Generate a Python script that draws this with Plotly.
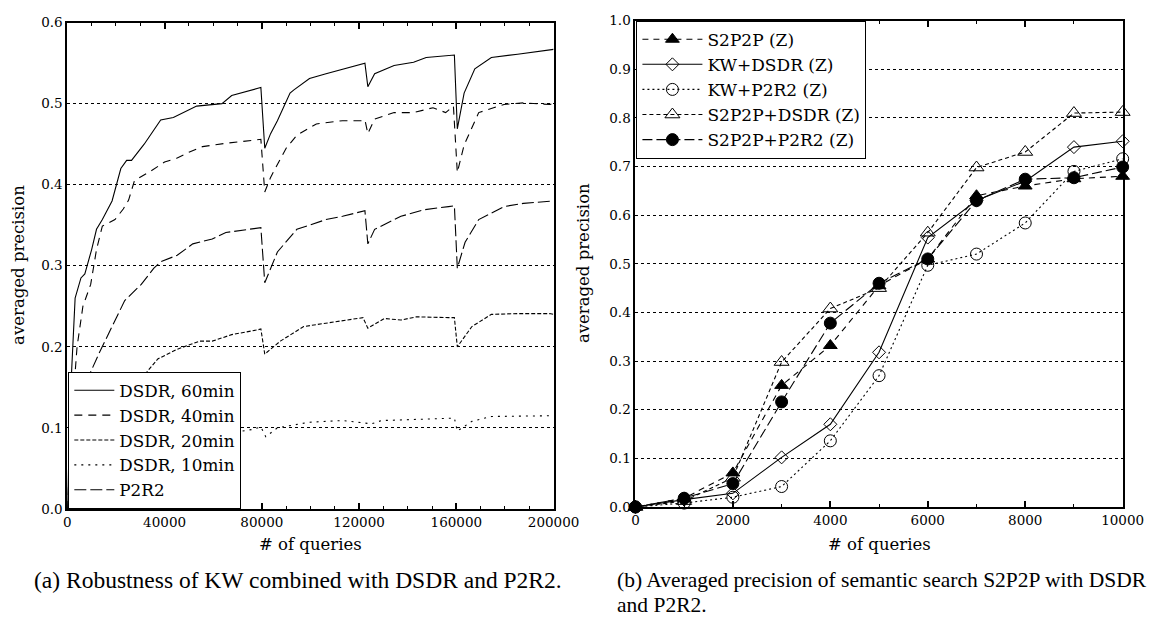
import plotly.graph_objects as go

W, H = 1174, 628

# ---------------- Data: (a) Robustness of KW combined with DSDR and P2R2 ----------------
x_dsdr60 = [0, 1600, 3200, 5600, 7200, 10000, 12000, 14400, 18400, 22000, 24400, 26400, 31600,
            35000, 38400, 43600, 53200, 63600, 67600, 78400, 79600, 81200, 83600, 86400, 91600,
            93200, 99600, 106400, 121600, 122400, 123600, 126400, 134400, 142400, 147600, 158400,
            159200, 160400, 163200, 167600, 174400, 185200, 199200, 200000]
y_dsdr60 = [0.0, 0.16, 0.26, 0.285, 0.29, 0.32, 0.345, 0.357, 0.38, 0.42, 0.43, 0.43, 0.45,
            0.465, 0.48, 0.483, 0.497, 0.50, 0.51, 0.519, 0.52, 0.445, 0.463, 0.479, 0.513,
            0.517, 0.531, 0.537, 0.549, 0.55, 0.521, 0.537, 0.547, 0.551, 0.557, 0.559,
            0.56, 0.469, 0.513, 0.543, 0.557, 0.561, 0.566, 0.567]

x_dsdr40 = [0, 2000, 4000, 6400, 9600, 12000, 14400, 19600, 23000, 25200, 27600, 34400, 40000,
            45200, 50000, 55600, 65000, 78400, 79600, 81200, 83600, 86400, 90000, 94400, 102400,
            113200, 121600, 122400, 123600, 126400, 134400, 142400, 150400, 155600, 158800,
            160400, 163200, 169200, 179600, 187600, 198400, 200000]
y_dsdr40 = [0.0, 0.12, 0.2, 0.25, 0.277, 0.32, 0.349, 0.357, 0.37, 0.381, 0.405, 0.417, 0.428,
            0.433, 0.44, 0.447, 0.451, 0.455, 0.456, 0.391, 0.409, 0.425, 0.445, 0.461, 0.475,
            0.479, 0.479, 0.48, 0.463, 0.481, 0.489, 0.489, 0.495, 0.489, 0.497,
            0.415, 0.449, 0.489, 0.499, 0.501, 0.499, 0.50]

x_dsdr20 = [0, 10000, 20000, 26000, 31600, 37200, 45200, 54400, 59600, 67600, 78400, 79600,
            81200, 87600, 97200, 106400, 118400, 121600, 123600, 130400, 137200, 143600, 156800,
            159200, 160400, 166400, 174400, 185200, 198400, 200000]
y_dsdr20 = [0.0, 0.06, 0.12, 0.145, 0.165, 0.185, 0.197, 0.207, 0.207, 0.215, 0.221, 0.222,
            0.191, 0.207, 0.225, 0.229, 0.234, 0.236, 0.223, 0.235, 0.233, 0.237, 0.236,
            0.236, 0.2, 0.225, 0.24, 0.241, 0.241, 0.24]

x_dsdr10 = [0, 20000, 50000, 76000, 79600, 81600, 86400, 91600, 99600, 113200, 125200, 129200,
            139600, 155600, 159200, 160400, 166400, 174400, 198400, 200000]
y_dsdr10 = [0.0, 0.05, 0.085, 0.098, 0.101, 0.089, 0.1, 0.103, 0.107, 0.109, 0.105, 0.109,
            0.11, 0.112, 0.112, 0.096, 0.108, 0.114, 0.115, 0.115]

x_p2r2 = [0, 3000, 6000, 8400, 13200, 18400, 23600, 30400, 35600, 38400, 45200, 51600, 59600,
          65200, 78400, 79600, 81200, 86400, 94400, 106400, 113200, 121600, 122400, 123600,
          126400, 137200, 146400, 156800, 159200, 160400, 163600, 169200, 179600, 187600,
          197600, 200000]
y_p2r2 = [0.0, 0.06, 0.13, 0.161, 0.193, 0.225, 0.257, 0.277, 0.297, 0.305, 0.313, 0.327, 0.333,
          0.341, 0.346, 0.347, 0.279, 0.317, 0.345, 0.357, 0.361, 0.367, 0.368, 0.327,
          0.345, 0.361, 0.369, 0.373, 0.374, 0.297, 0.329, 0.357, 0.373, 0.377,
          0.379, 0.38]

left_xticks = [0, 40000, 80000, 120000, 160000, 200000]
left_xticklabels = ["0", "40000", "80000", "120000", "160000", "200000"]

# ---------------- Data: (b) Averaged precision of semantic search ----------------
queries = [0, 1000, 2000, 3000, 4000, 5000, 6000, 7000, 8000, 9000, 10000]
s2p2p = [0.0, 0.018, 0.07, 0.25, 0.332, 0.455, 0.51, 0.64, 0.66, 0.675, 0.68]
kw_dsdr = [0.0, 0.015, 0.028, 0.102, 0.17, 0.318, 0.554, 0.63, 0.67, 0.74, 0.752]
kw_p2r2 = [0.0, 0.008, 0.02, 0.042, 0.136, 0.27, 0.497, 0.52, 0.584, 0.69, 0.716]
s2p2p_dsdr = [0.0, 0.012, 0.06, 0.298, 0.408, 0.45, 0.564, 0.698, 0.73, 0.81, 0.812]
s2p2p_p2r2 = [0.0, 0.018, 0.048, 0.216, 0.378, 0.46, 0.51, 0.63, 0.674, 0.677, 0.699]

right_xticks = [0, 2000, 4000, 6000, 8000, 10000]
right_xticklabels = ["0", "2000", "4000", "6000", "8000", "10000"]

TICKFONT = dict(family="DejaVu Serif", size=13.5, color="black")
LEGFONT_A = dict(family="DejaVu Serif", size=16.8, color="black")
LEGFONT_B = dict(family="DejaVu Serif", size=17, color="black")
TITLEFONT = dict(family="DejaVu Serif", size=16.5, color="black")
CAPFONT_A = dict(family="Liberation Serif", size=23.5, color="black")
CAPFONT_B = dict(family="Liberation Serif", size=21.5, color="black")

fig = go.Figure()

left_series = [
    ("DSDR, 60min", x_dsdr60, y_dsdr60, "solid"),
    ("DSDR, 40min", x_dsdr40, y_dsdr40, "8px,6px"),
    ("DSDR, 20min", x_dsdr20, y_dsdr20, "4px,2px"),
    ("DSDR, 10min", x_dsdr10, y_dsdr10, "2px,5px"),
    ("P2R2", x_p2r2, y_p2r2, "12px,4px"),
]
for i, (name, xs, ys, dash) in enumerate(left_series):
    fig.add_trace(go.Scatter(x=xs, y=ys, name=name, mode="lines",
                             line=dict(color="black", width=1.1, dash=dash),
                             xaxis="x", yaxis="y", legend="legend",
                             legendgroup="a%d" % i))

right_series = [
    ("S2P2P (Z)", s2p2p, "6px,5px", "triangle-up", 12),
    ("KW+DSDR (Z)", kw_dsdr, "solid", "diamond-open", 10),
    ("KW+P2R2 (Z)", kw_p2r2, "2px,3px", "circle-open", 12),
    ("S2P2P+DSDR (Z)", s2p2p_dsdr, "4px,3px", "triangle-up-open", 13),
    ("S2P2P+P2R2 (Z)", s2p2p_p2r2, "10px,4px", "circle", 12),
]
for i, (name, ys, dash, sym, size) in enumerate(right_series):
    fig.add_trace(go.Scatter(x=queries, y=ys, name=name, mode="lines+markers",
                             line=dict(color="black", width=1.1, dash=dash),
                             marker=dict(symbol=sym, size=size, color="black",
                                         line=dict(color="black", width=1)),
                             cliponaxis=False,
                             xaxis="x2", yaxis="y2", legend="legend2",
                             legendgroup="b%d" % i))

common_x = dict(showline=True, linewidth=2, linecolor="black", mirror="allticks",
                ticks="inside", ticklen=6, tickwidth=1.5, tickcolor="black",
                showgrid=False, zeroline=False, tickfont=TICKFONT)
common_y = dict(showline=True, linewidth=2, linecolor="black", mirror=True,
                ticks="", showgrid=True, griddash="dot", gridcolor="black", gridwidth=1,
                zeroline=False, tickfont=TICKFONT, tickformat=".1f", dtick=0.1, tick0=0)

fig.update_layout(
    width=W, height=H, margin=dict(l=0, r=0, t=0, b=0),
    paper_bgcolor="white", plot_bgcolor="white", showlegend=True,
    xaxis=dict(domain=[65 / W, 564 / W], range=[0, 200000], anchor="y",
               tickvals=left_xticks, ticktext=left_xticklabels,
               minor=dict(ticks="inside", dtick=10000, tick0=0, ticklen=3,
                          tickcolor="black", tickwidth=1),
               **common_x),
    yaxis=dict(domain=[1 - 514 / H, 1 - 15 / H], range=[0, 0.6], anchor="x", **common_y),
    xaxis2=dict(domain=[648 / W, 1148 / W], range=[0, 10000], anchor="y2",
                tickvals=right_xticks, ticktext=right_xticklabels,
                minor=dict(ticks="inside", dtick=1000, tick0=0, ticklen=3,
                           tickcolor="black", tickwidth=1),
                **common_x),
    yaxis2=dict(domain=[1 - 512 / H, 1 - 13 / H], range=[0, 1.0], anchor="x2", **common_y),
    legend=dict(x=66 / W, y=1 - 514 / H, xanchor="left", yanchor="bottom",
                bgcolor="white", bordercolor="black", borderwidth=1,
                font=LEGFONT_A, traceorder="grouped", tracegroupgap=0, itemwidth=40),
    legend2=dict(x=649 / W, y=1 - 13 / H, xanchor="left", yanchor="top",
                 bgcolor="white", bordercolor="black", borderwidth=1,
                 font=LEGFONT_B, traceorder="grouped", tracegroupgap=0, itemwidth=60),
)

annotations = [
    dict(text="averaged precision", x=15 / W, y=1 - 264 / H, textangle=-90, font=TITLEFONT),
    dict(text="averaged precision", x=595 / W, y=1 - 262 / H, textangle=-90, font=TITLEFONT),
    dict(text="# of queries", x=314.5 / W, y=1 - 551 / H, font=TITLEFONT),
    dict(text="# of queries", x=898 / W, y=1 - 551 / H, font=TITLEFONT),
    dict(text="(a) Robustness of KW combined with DSDR and P2R2.", x=29 / W, y=1 - 587 / H,
         xanchor="left", font=CAPFONT_A),
    dict(text="(b) Averaged precision of semantic search S2P2P with DSDR", x=627 / W,
         y=1 - 587 / H, xanchor="left", font=CAPFONT_B),
    dict(text="and P2R2.", x=627 / W, y=1 - 613 / H, xanchor="left", font=CAPFONT_B),
]
for a in annotations:
    a.setdefault("xanchor", "center")
    fig.add_annotation(xref="paper", yref="paper", showarrow=False, yanchor="middle", **a)

fig.write_html("out.html")
